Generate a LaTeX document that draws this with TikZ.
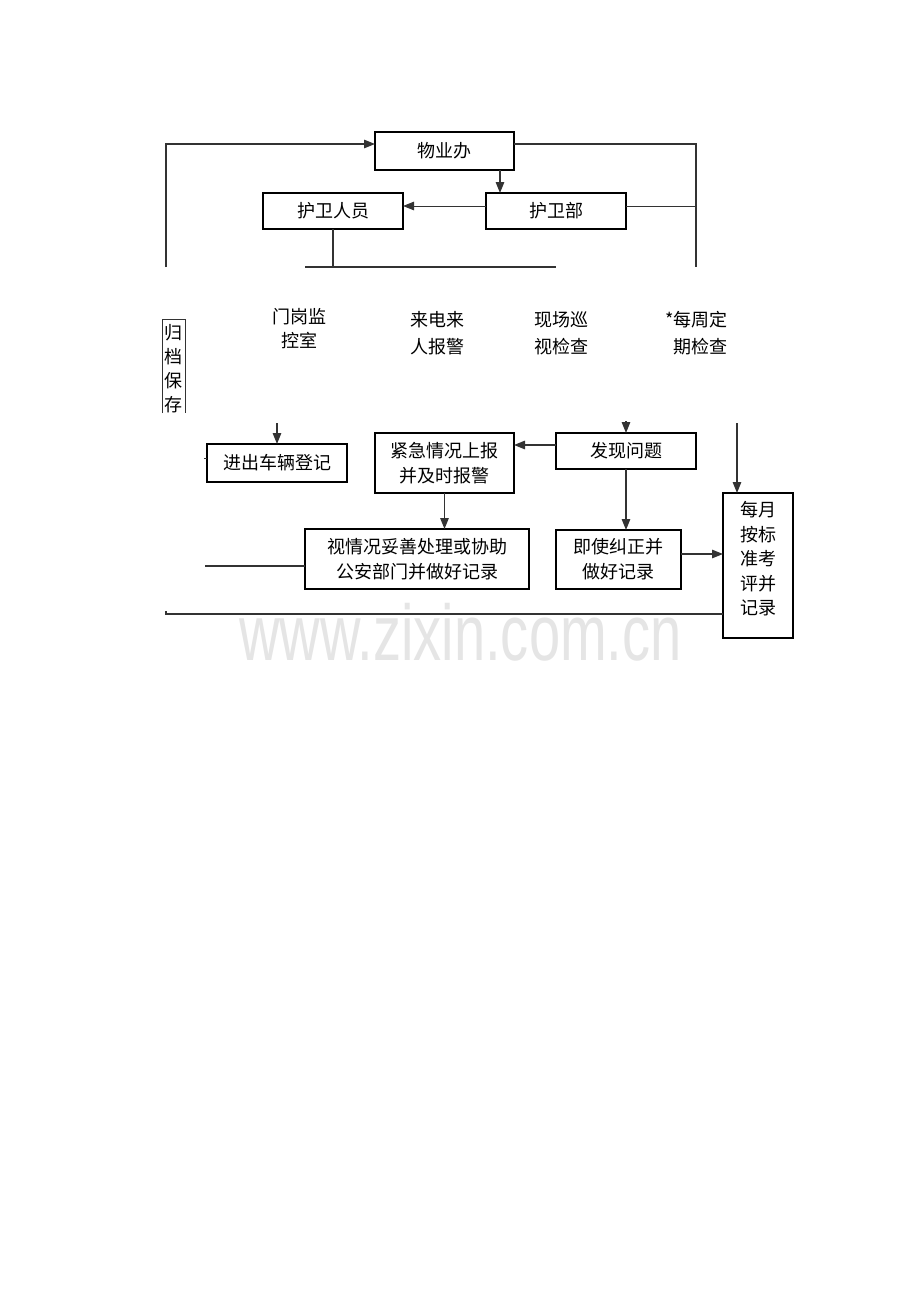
\documentclass[tikz,border=0pt]{standalone}
\usepackage{fontspec}
\usepackage{graphicx}
\newfontfamily\cjk{Noto Sans CJK SC}
\newfontfamily\wmfont{Liberation Sans}
\usetikzlibrary{arrows.meta}
\begin{document}
\begin{tikzpicture}[x=1pt,y=-1pt,
  box/.style={draw=black,line width=1.1pt,inner sep=0pt,outer sep=0pt,
    font=\cjk\fontsize{18}{25}\selectfont,align=center},
  lbl/.style={inner sep=0pt,font=\cjk\fontsize{18}{24}\selectfont,align=center},
  lblw/.style={inner sep=0pt,font=\cjk\fontsize{18}{27}\selectfont,align=center},
  ln/.style={draw=black!80,line width=1.3pt},
  arr/.style={ln,-{Triangle[length=11pt,width=8.5pt]}}]
\useasboundingbox[fill=white] (0,0) rectangle (920,1302);

% watermark
\node[inner sep=0pt,anchor=base,text=black!10,font=\wmfont\fontsize{79}{79}\selectfont] (wmk) at (460.5,660) {\scalebox{0.71}[1]{www.zixin.com.cn}};

% boxes
\node[box,minimum width=139pt,minimum height=38pt] (wyb) at (444.5,151) {物业办};
\node[box,minimum width=140pt,minimum height=36pt] (hwb) at (556,211) {护卫部};
\node[box,minimum width=140pt,minimum height=36pt] (hwry) at (333,211) {护卫人员};
\node[box,minimum width=140pt,minimum height=38pt] (jc) at (277,463) {进出车辆登记};
\node[box,minimum width=139pt,minimum height=60pt] (jj) at (444.5,463) {紧急情况上报\\并及时报警};
\node[box,line width=1.8pt,minimum width=140pt,minimum height=36pt] (fx) at (626,451) {发现问题};
\node[box,line width=1.5pt,minimum width=224pt,minimum height=60pt] (sq) at (417,559) {视情况妥善处理或协助\\公安部门并做好记录};
\node[box,line width=1.5pt,minimum width=125pt,minimum height=59pt] (js) at (618.5,559.5) {即使纠正并\\做好记录};
\node[box,line width=1.5pt,minimum width=70pt,minimum height=145pt] (my) at (758,565.5) {};
\node[inner sep=0pt,font=\cjk\fontsize{18}{24.5}\selectfont,align=center] (myt) at (758,559) {每月\\按标\\准考\\评并\\记录};

% archive box (open at bottom)
\coordinate (g1) at (162,413);
\coordinate (g2) at (162,319);
\coordinate (g3) at (185,319);
\coordinate (g4) at (185,413);
\draw[black!80,line width=1pt] (g1) -- (g2) -- (g3) -- (g4);
\node[inner sep=0pt,font=\cjk\fontsize{18}{24}\selectfont,align=center] (gd) at (173.5,369) {归\\档\\保\\存};

% top row labels
\node[lbl] (mg) at (299,328.5) {门岗监\\控室};
\node[lblw] (ld) at (437,333.5) {来电来\\人报警};
\node[lblw] (xc) at (561,333.5) {现场巡\\视检查};
\node[lblw,align=right,anchor=east] (mz) at (728,333.5) {*每周定\\期检查};

% connectors
\coordinate (tl) at (166,267);
\draw[arr] (tl) |- ([yshift=7pt]wyb.west);
\coordinate (tr) at (696,267);
\draw[ln] ([yshift=7pt]wyb.east) -| (tr);
\draw[ln,line width=1pt] ([yshift=5pt]hwb.east) -- ([yshift=5pt]hwb.east -| tr);
\draw[arr,line width=1pt] ([yshift=5pt]hwb.west) -- ([yshift=5pt]hwb.west -| hwry.east);
\draw[arr] ([xshift=55.5pt]wyb.south) -- ([xshift=55.5pt]wyb.south |- hwb.north);
\coordinate (hl) at (305,267);
\coordinate (hr) at (556,267);
\draw[ln] (hl) -- (hr);
\draw[ln,line width=1.6pt] (hwry.south) -- (hwry.south |- hl);

\coordinate (a1) at (277,423);
\draw[arr] (a1) -- (jc.north);
\coordinate (a2) at (626,421);
\draw[arr] (a2) -- (fx.north);
\coordinate (a3) at (737,423);
\draw[arr] (a3) -- (a3 |- my.north);
\draw[arr] ([yshift=6pt]fx.west) -- ([yshift=6pt]fx.west -| jj.east);
\draw[arr] (jj.south) -- (jj.south |- sq.north);
\draw[arr] (fx.south) -- (fx.south |- js.north);
\draw[arr] ([yshift=5.5pt]js.east) -- ([yshift=5.5pt]js.east -| my.west);
\coordinate (b1) at (205,566);
\draw[ln] (b1) -- (b1 -| sq.west);
\coordinate (b2) at (166,611);
\coordinate (b3) at (166,614);
\draw[ln] (b2) -- (b3) -- (b3 -| my.west);
\coordinate (c1) at (204,458);
\draw[ln,line width=0.8pt] (c1) -- (c1 -| jc.west);
\end{tikzpicture}
\end{document}
